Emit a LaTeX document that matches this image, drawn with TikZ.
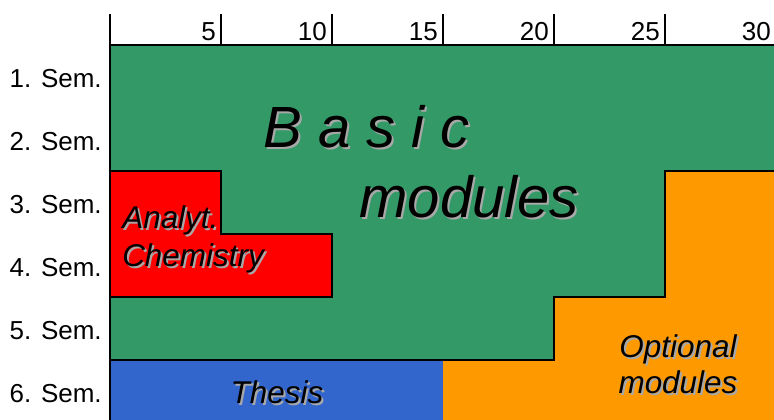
\documentclass[tikz,border=0pt]{standalone}
\usepackage{fontspec}
\setmainfont{Liberation Sans}
\definecolor{gmod}{HTML}{339966}
\definecolor{rmod}{HTML}{FF0000}
\definecolor{omod}{HTML}{FF9900}
\definecolor{bmod}{HTML}{3366CC}
\definecolor{shad}{HTML}{A8A8A8}
\tikzset{
  semlbl/.style={anchor=base east,inner sep=0pt,font=\fontsize{19.5}{23}\selectfont},
  numlbl/.style={anchor=base east,inner sep=0pt,font=\fontsize{19.5}{23}\selectfont},
  bigtxt/.style={inner sep=0pt,font=\fontsize{43.6}{50}\selectfont\itshape},
  midtxt/.style={inner sep=0pt,font=\fontsize{23.6}{28}\selectfont\itshape},
  shd/.style={text=shad},
  outl/.style={draw=black,line width=0.9pt},
  axisline/.style={draw=black,line width=0.8pt}
}
\newcommand\shadowtext[5]{% name, style, x, y, text
  \node[#2,shd] (#1s) at (#3+2,#4+2) {#5};
  \node[#2] (#1) at (#3,#4) {#5};
}
\begin{document}
\begin{tikzpicture}[x=0.75pt,y=-0.75pt]
\useasboundingbox (0,0) rectangle (774,419);
\begin{scope}
\clip (0,0) rectangle (774,419);
% fills
\fill[gmod] (110,45) rectangle (780,360);
\fill[rmod] (110,171) -- (221,171) -- (221,234) -- (332,234) -- (332,297) -- (110,297) -- cycle;
\fill[omod] (665,171) -- (780,171) -- (780,425) -- (443,425) -- (443,360) -- (554,360) -- (554,297) -- (665,297) -- cycle;
\fill[bmod] (110,360) rectangle (443,425);
% outlines
\draw[outl] (110,171) -- (221,171) -- (221,234) -- (332,234) -- (332,297) -- (110,297);
\draw[outl] (110,360) -- (554,360) -- (554,297) -- (665,297) -- (665,171) -- (780,171);
% axes
\draw[axisline] (110,45) -- (780,45);
\draw[axisline] (110,14) -- (110,425);
\foreach \t in {221,332,443,554,665} { \draw[axisline] (\t,14) -- (\t,45); }
\end{scope}
% column numbers
\node[numlbl] (n5) at (216,40.5) {5};
\node[numlbl] (n10) at (327,40.5) {10};
\node[numlbl] (n15) at (438,40.5) {15};
\node[numlbl] (n20) at (549,40.5) {20};
\node[numlbl] (n25) at (660,40.5) {25};
\node[numlbl] (n30) at (771,40.5) {30};
% semester labels
\node[semlbl] (s1) at (102,87) {1. Sem.};
\node[semlbl] (s2) at (102,150) {2. Sem.};
\node[semlbl] (s3) at (102,213) {3. Sem.};
\node[semlbl] (s4) at (102,276.5) {4. Sem.};
\node[semlbl] (s5) at (102,339.5) {5. Sem.};
\node[semlbl] (s6) at (102,402.5) {6. Sem.};
% module labels
\shadowtext{basic}{bigtxt,anchor=base west}{263}{147}{B a s i c}
\shadowtext{bmods}{bigtxt,anchor=base west}{359}{217}{modules}
\shadowtext{analyt}{midtxt,anchor=base west}{122}{228}{Analyt.}
\shadowtext{chem}{midtxt,anchor=base west}{122}{266}{Chemistry}
\shadowtext{opt}{midtxt,anchor=base}{678}{357}{Optional}
\shadowtext{omods}{midtxt,anchor=base}{678}{393}{modules}
\shadowtext{thesis}{midtxt,anchor=base}{277}{403}{Thesis}
\end{tikzpicture}
\end{document}
